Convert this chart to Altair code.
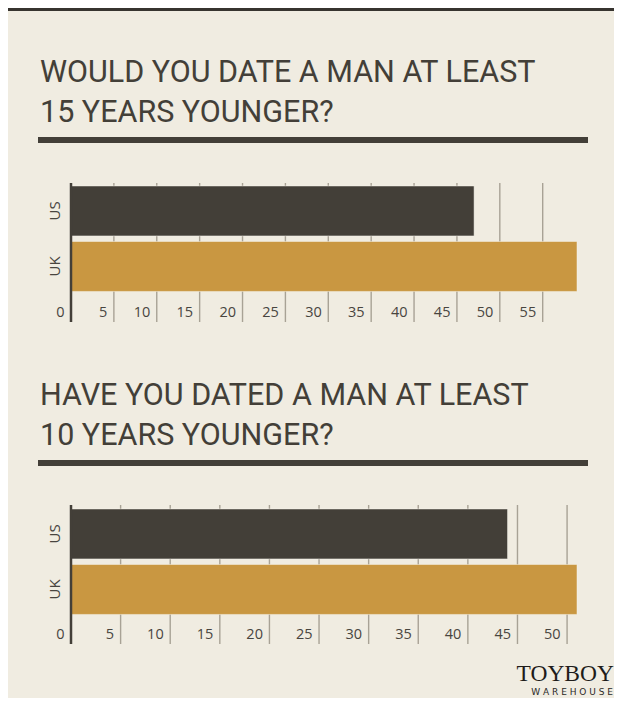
import altair as alt
import pandas as pd

# ---- data ----
countries = ["US", "UK"]
q1_values = [47, 59]          # Would you date a man at least 15 years younger?
q2_values = [44, 51]          # Have you dated a man at least 10 years younger?
q1_ticks = [5, 10, 15, 20, 25, 30, 35, 40, 45, 50, 55]
q2_ticks = [5, 10, 15, 20, 25, 30, 35, 40, 45, 50]
q1_title = ["WOULD YOU DATE A MAN AT LEAST", "15 YEARS YOUNGER?"]
q2_title = ["HAVE YOU DATED A MAN AT LEAST", "10 YEARS YOUNGER?"]
q1_max = 59
q2_max = 51

BG = "#f0ece1"
DARK = "#433f38"
GOLD = "#c99741"
GRID = "#a8a295"
LABEL = "#48453f"

X0, X1 = 63, 569


def panel(values, ticks, xmax, ytop, yr0, yr1):
    bars_df = pd.DataFrame({"country": countries, "value": values})
    ticks_df = pd.DataFrame({"tick": ticks, "label": [str(t) for t in ticks]})
    zero_df = pd.DataFrame({"tick": [0], "label": ["0"]})
    xs = alt.Scale(domain=[0, xmax], range=[X0, X1], nice=False, zero=True)
    ys = alt.Scale(domain=countries, range=[yr0, yr1], paddingInner=0.1, paddingOuter=0.05)
    gy0, gy1 = ytop, ytop + 139
    grid = alt.Chart(ticks_df).mark_rule(color=GRID, strokeWidth=1.4).encode(
        x=alt.X("tick:Q", scale=xs, axis=None),
        y=alt.value(gy0), y2=alt.value(gy1))
    bars = alt.Chart(bars_df).mark_bar().encode(
        x=alt.X("value:Q", scale=xs, axis=None),
        y=alt.Y("country:N", scale=ys, axis=None, sort=countries),
        color=alt.Color("country:N", scale=alt.Scale(domain=countries, range=[DARK, GOLD]), legend=None),
        stroke=alt.value("#f7f4ec"), strokeWidth=alt.value(0.5))
    axis_line = alt.Chart(zero_df).mark_rule(color=DARK, strokeWidth=2.5).encode(
        x=alt.X("tick:Q", scale=xs, axis=None),
        y=alt.value(gy0), y2=alt.value(gy1))
    tick_labels = alt.Chart(pd.concat([zero_df, ticks_df])).mark_text(
        align="right", baseline="middle", dx=-6.5, font="Open Sans", fontSize=14.5, color=LABEL).encode(
        x=alt.X("tick:Q", scale=xs, axis=None),
        y=alt.value(gy1 - 9),
        text="label:N")
    cat_labels = alt.Chart(bars_df).mark_text(
        angle=270, baseline="middle", align="center", font="Open Sans", fontSize=15, color=LABEL).encode(
        y=alt.Y("country:N", scale=ys, axis=None, sort=countries),
        x=alt.value(47),
        text="country:N")
    return [grid, bars, axis_line, tick_labels, cat_labels]


def header(lines, base1, rule_y):
    layers = []
    for i, line in enumerate(lines):
        layers.append(alt.Chart(pd.DataFrame({"t": [line]})).mark_text(
            align="left", baseline="alphabetic", font="Roboto", fontSize=30.5, color=DARK).encode(
            x=alt.value(32), y=alt.value(base1 + 40 * i), text="t:N"))
    layers.append(alt.Chart(pd.DataFrame({"a": [0]})).mark_rule(color=DARK, strokeWidth=6).encode(
        x=alt.value(30), x2=alt.value(580), y=alt.value(rule_y)))
    return layers


top_border = alt.Chart(pd.DataFrame({"a": [0]})).mark_rule(color="#37342f", strokeWidth=3).encode(
    x=alt.value(0), x2=alt.value(606), y=alt.value(1.5))

logo1 = alt.Chart(pd.DataFrame({"t": ["TOYBOY"]})).mark_text(
    align="right", baseline="alphabetic", font="Liberation Serif", fontSize=23.5, color="#1e1c1a").encode(
    x=alt.value(606), y=alt.value(673), text="t:N")
logo2 = alt.Chart(pd.DataFrame({"t": ["W A R E H O U S E"]})).mark_text(
    align="right", baseline="alphabetic", font="DejaVu Sans", fontSize=9, color="#2a2826").encode(
    x=alt.value(605), y=alt.value(687), text="t:N")

layers = ([top_border]
          + header(q1_title, 74, 132)
          + panel(q1_values, q1_ticks, q1_max, 175, 175.2, 286.2)
          + header(q2_title, 397, 455)
          + panel(q2_values, q2_ticks, q2_max, 497, 498.2, 609.2)
          + [logo1, logo2])

chart = alt.layer(*layers).resolve_scale(
    x="independent", y="independent", color="independent"
).properties(
    width=606, height=690, background=BG, padding=0,
    autosize=alt.AutoSizeParams(type="none")
).configure_view(stroke=None)

chart.save("out.html", embed_options={"renderer": "svg", "actions": False})
